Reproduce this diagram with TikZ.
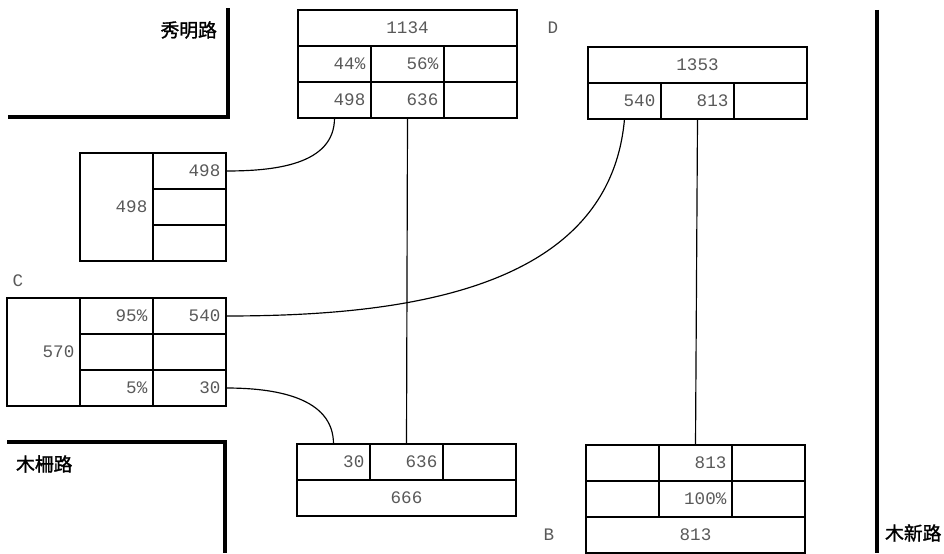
\documentclass[tikz,border=0pt]{standalone}
\usepackage{fontspec}
\setmonofont{Liberation Mono}
\newfontfamily\cjk[AutoFakeBold=1.5]{Noto Sans CJK TC}
\usetikzlibrary{positioning}

\newcommand{\numfont}{\ttfamily\fontsize{15}{15}\selectfont}

\begin{document}
\begin{tikzpicture}[x=0.03cm, y=0.03cm,
    cell/.style={rectangle, draw, line width=1.6pt, outer sep=0pt, minimum width=2.19cm, minimum height=1.08cm, text width=1.85cm, inner xsep=0.17cm, align=right, font=\numfont, text=black!65},
    widecell/.style={cell, minimum width=6.57cm, text width=6.2cm, align=center},
    tallcell/.style={cell, minimum height=3.24cm},
    road/.style={line width=4pt},
    roadname/.style={font=\cjk\bfseries\fontsize{16}{16}\selectfont},
    corner/.style={font=\numfont, text=black!65},
    link/.style={line width=1pt}]

    \useasboundingbox (0,0) rectangle (944,553);

    % Roads
    \draw[road] (8,436) -| (228,545);
    \draw[road] (7,111) -| (225,0);
    \draw[road] (877,543) -- (877,0);
    \node[roadname, anchor=east] (xiuming) at (221,523) {秀明路};
    \node[roadname, anchor=west] (muzha) at (12,89) {木柵路};
    \node[roadname, anchor=west] (muxin) at (881,20) {木新路};

    % Top box
    \node[widecell, anchor=north west] (t0) at (298,543) {1134};
    \node[cell, below right=0pt of t0.south west] (t1a) {44\%};
    \node[cell, right=0pt of t1a] (t1b) {56\%};
    \node[cell, right=0pt of t1b] (t1c) {};
    \node[cell, below=0pt of t1a] (t2a) {498};
    \node[cell, right=0pt of t2a] (t2b) {636};
    \node[cell, right=0pt of t2b] (t2c) {};

    % D
    \node[corner] (lblD) at (553,525) {D};
    \node[widecell, anchor=north west] (d0) at (588,506) {1353};
    \node[cell, below right=0pt of d0.south west] (d1a) {540};
    \node[cell, right=0pt of d1a] (d1b) {813};
    \node[cell, right=0pt of d1b] (d1c) {};

    % Left box
    \node[tallcell, anchor=north west] (l0) at (80,400) {498};
    \node[cell, below right=0pt of l0.north east] (l1) {498};
    \node[cell, below=0pt of l1] (l2) {};
    \node[cell, below=0pt of l2] (l3) {};

    % C
    \node[corner] (lblC) at (18,272) {C};
    \node[tallcell, anchor=north west] (c0) at (7,255) {570};
    \node[cell, below right=0pt of c0.north east] (c1a) {95\%};
    \node[cell, right=0pt of c1a] (c1b) {540};
    \node[cell, below=0pt of c1a] (c2a) {};
    \node[cell, right=0pt of c2a] (c2b) {};
    \node[cell, below=0pt of c2a] (c3a) {5\%};
    \node[cell, right=0pt of c3a] (c3b) {30};

    % Bottom box
    \node[cell, anchor=north west] (m1a) at (297,109) {30};
    \node[cell, right=0pt of m1a] (m1b) {636};
    \node[cell, right=0pt of m1b] (m1c) {};
    \node[widecell, below right=0pt of m1a.south west] (m0) {666};

    % B
    \node[corner] (lblB) at (549,18) {B};
    \node[cell, anchor=north west] (b1a) at (586,108) {};
    \node[cell, right=0pt of b1a] (b1b) {813};
    \node[cell, right=0pt of b1b] (b1c) {};
    \node[cell, below=0pt of b1a] (b2a) {};
    \node[cell, right=0pt of b2a] (b2b) {100\%};
    \node[cell, right=0pt of b2b] (b2c) {};
    \node[widecell, below right=0pt of b2a.south west] (b0) {813};

    % Links
    \draw[link] (t2a.south) to[out=-90, in=0] (l1.east);
    \draw[link] (t2b.south) -- (m1b.north);
    \draw[link] (d1a.south) to[out=-95, in=0] (c1b.east);
    \draw[link] (d1b.south) -- (b1b.north);
    \draw[link] (c3b.east) to[out=0, in=90] (m1a.north);
\end{tikzpicture}
\end{document}
